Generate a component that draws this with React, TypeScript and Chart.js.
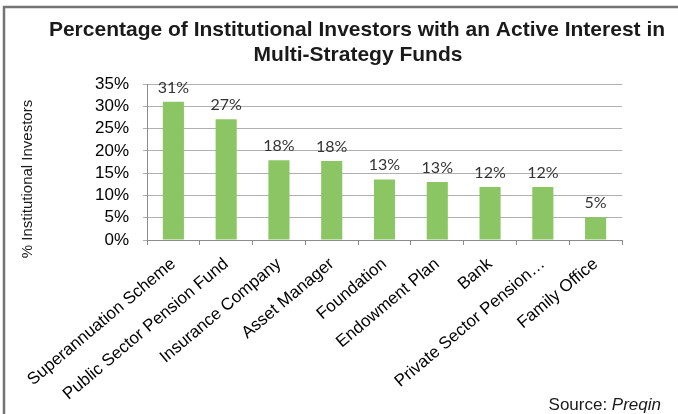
import React, { useEffect, useRef } from "react";
import { Chart, registerables } from "chart.js";

Chart.register(...registerables);

const categories = [
  "Superannuation Scheme",
  "Public Sector Pension Fund",
  "Insurance Company",
  "Asset Manager",
  "Foundation",
  "Endowment Plan",
  "Bank",
  "Private Sector Pension…",
  "Family Office",
];
const values = [31, 27.1, 17.9, 17.7, 13.6, 13.0, 11.9, 11.9, 5.1];
const valueLabels = ["31%", "27%", "18%", "18%", "13%", "13%", "12%", "12%", "5%"];
const titleLines = [
  "Percentage of Institutional Investors with an Active Interest in",
  "Multi-Strategy Funds",
];
const yAxisTitle = "% Institutional Investors";
const sourcePrefix = "Source: ";
const sourceName = "Preqin";

const FONT = "'Liberation Sans', Arial, sans-serif";

const decorPlugin = {
  id: "decor",
  beforeDraw(chart: any) {
    const ctx = chart.ctx;
    ctx.save();
    ctx.fillStyle = "#ffffff";
    ctx.fillRect(0, 0, chart.width, chart.height);
    ctx.strokeStyle = "#747474";
    ctx.lineWidth = 2.5;
    ctx.beginPath();
    ctx.moveTo(4, chart.height);
    ctx.lineTo(4, 7);
    ctx.lineTo(chart.width, 7);
    ctx.stroke();
    ctx.restore();
  },
  afterDraw(chart: any) {
    const ctx = chart.ctx;
    ctx.save();
    ctx.fillStyle = "#1a1a1a";
    ctx.font = `bold 21px ${FONT}`;
    ctx.textAlign = "center";
    ctx.textBaseline = "alphabetic";
    ctx.fillText(titleLines[0], 357, 36);
    ctx.fillText(titleLines[1], 358, 61);

    ctx.font = `15px ${FONT}`;
    ctx.save();
    ctx.translate(28, 179);
    ctx.rotate(-Math.PI / 2);
    ctx.textBaseline = "middle";
    ctx.textAlign = "center";
    ctx.fillText(yAxisTitle, 0, 0);
    ctx.restore();

    ctx.textAlign = "right";
    ctx.textBaseline = "alphabetic";
    ctx.font = `italic 17px ${FONT}`;
    const w = ctx.measureText(sourceName).width;
    ctx.fillText(sourceName, 661, 410);
    ctx.font = `17px ${FONT}`;
    ctx.fillText(sourcePrefix, 661 - w, 410);
    ctx.restore();
  },
};

const valueLabelPlugin = {
  id: "valueLabels",
  afterDatasetsDraw(chart: any) {
    const ctx = chart.ctx;
    const meta = chart.getDatasetMeta(0);
    ctx.save();
    ctx.fillStyle = "#333333";
    ctx.font = `16px Lato, 'Open Sans', sans-serif`;
    ctx.textAlign = "center";
    ctx.textBaseline = "alphabetic";
    meta.data.forEach((bar: any, i: number) => {
      ctx.fillText(valueLabels[i], bar.x, bar.y - 9);
    });
    ctx.restore();
  },
};

export default function App() {
  const ref = useRef<HTMLCanvasElement>(null);
  useEffect(() => {
    if (!ref.current) return;
    const chart = new Chart(ref.current, {
      type: "bar",
      data: {
        labels: categories,
        datasets: [
          {
            data: values,
            backgroundColor: "#8cc664",
            borderWidth: 0,
            barPercentage: 0.4,
            categoryPercentage: 1,
          },
        ],
      },
      options: {
        animation: false,
        responsive: false,
        devicePixelRatio: 1,
        layout: { padding: { top: 84, right: 56, bottom: 0, left: 0 } },
        plugins: {
          legend: { display: false },
          title: { display: false },
          tooltip: { enabled: false },
        },
        scales: {
          x: {
            offset: true,
            grid: {
              offset: true,
              drawOnChartArea: false,
              drawTicks: true,
              tickLength: 5,
              color: "#8c8c8c",
            },
            border: { color: "#8c8c8c" },
            ticks: {
              autoSkip: false,
              minRotation: 40,
              maxRotation: 40,
              padding: 9,
              color: "#000000",
              font: { family: FONT, size: 17 },
            },
            afterFit: (s: any) => {
              s.height = 174;
            },
          },
          y: {
            min: 0,
            max: 35,
            ticks: {
              stepSize: 5,
              autoSkip: false,
              padding: 14,
              color: "#000000",
              font: { family: FONT, size: 17 },
              callback: (v: any) => v + "%",
            },
            grid: {
              color: "#b0b0b0",
              tickLength: 4,
              drawTicks: true,
            },
            border: { color: "#8c8c8c" },
            afterFit: (s: any) => {
              s.width = 147;
            },
          },
        },
      },
      plugins: [decorPlugin, valueLabelPlugin],
    });
    return () => chart.destroy();
  }, []);
  return (
    <div style={{ position: "absolute", left: 0, top: 0, width: 678, height: 414, overflow: "hidden" }}>
      <canvas ref={ref} width={678} height={414} style={{ display: "block" }} />
    </div>
  );
}
